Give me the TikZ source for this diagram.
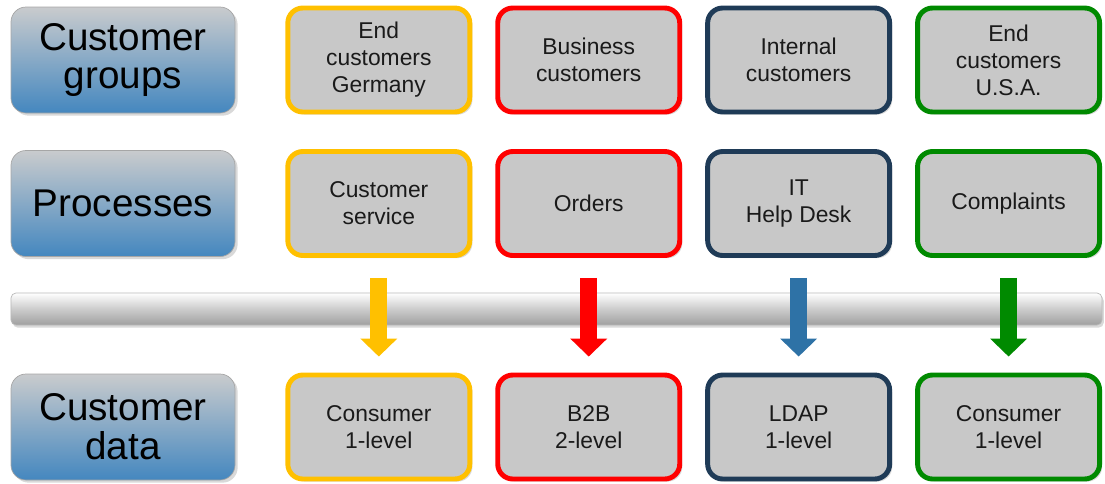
\documentclass[tikz,border=0pt]{standalone}
\usepackage{fontspec}
\setmainfont{Liberation Sans}
\usetikzlibrary{positioning, arrows.meta, shadows}
\definecolor{gyel}{HTML}{FFC000}
\definecolor{gred}{HTML}{FF0000}
\definecolor{gnavy}{HTML}{1F3B57}
\definecolor{ggreen}{HTML}{008A00}
\definecolor{arblue}{HTML}{2E72A6}
\definecolor{boxfill}{HTML}{C8C8C8}
\definecolor{lbltop}{HTML}{C9CBCD}
\definecolor{lblbot}{HTML}{4487BF}
\definecolor{txt}{HTML}{1A1A1A}
\tikzset{
  lbl/.style    ={rectangle, rounded corners=0.3cm, draw=gray!70, top color=lbltop, bottom color=lblbot,
                  minimum width=4.48cm, minimum height=2.12cm, align=center, text=black,
                  font=\fontsize{22}{22}\selectfont,
                  drop shadow={shadow xshift=1.5pt, shadow yshift=-1.5pt, opacity=0.3}},
  cbox/.style   ={rectangle, rounded corners=0.3cm, line width=2.8pt, fill=boxfill,
                  minimum width=3.64cm, minimum height=2.08cm, align=center, text=txt,
                  font=\fontsize{13}{15.4}\selectfont,
                  drop shadow={shadow xshift=1.5pt, shadow yshift=-1.5pt, opacity=0.3}},
  busbar/.style ={rectangle, rounded corners=0.1cm, draw=gray!55, top color=white, bottom color=gray!75,
                  middle color=gray!40, minimum width=21.82cm, minimum height=0.64cm,
                  drop shadow={shadow xshift=1pt, shadow yshift=-1.5pt, opacity=0.3}},
  darrow/.style ={line width=0.34cm, -{Triangle[width=0.72cm, length=0.36cm]},
                  shorten <=0.4cm, shorten >=0.32cm},
}
\begin{document}
\begin{tikzpicture}[node distance=0.78cm and 0.46cm]
  \useasboundingbox (0,0) rectangle (22.1,-9.66);
  % row labels
  \node[lbl] (lgrp)  at (2.46,-1.2)  {Customer\\groups};
  \node[lbl] (lproc) at (2.46,-4.07) {Processes};
  \node[lbl] (ldata) at (2.46,-8.54) {Customer\\data};
  % customer groups
  \node[cbox, draw=gyel, right=1.0cm of lgrp] (gEndDe) {End\\customers\\Germany};
  \node[cbox, draw=gred, right=of gEndDe] (gBiz) {Business\\customers};
  \node[cbox, draw=gnavy, right=of gBiz] (gInt) {Internal\\customers};
  \node[cbox, draw=ggreen, right=of gInt] (gEndUs) {End\\customers\\U.S.A.};
  % processes
  \node[cbox, draw=gyel, right=1.0cm of lproc] (pServ) {Customer\\service};
  \node[cbox, draw=gred, right=of pServ] (pOrd) {Orders};
  \node[cbox, draw=gnavy, right=of pOrd] (pHelp) {IT\\Help Desk};
  \node[cbox, draw=ggreen, right=of pHelp] (pCompl) {Complaints};
  % customer data
  \node[cbox, draw=gyel, right=1.0cm of ldata] (dCons) {Consumer\\1-level};
  \node[cbox, draw=gred, right=of dCons] (dBtoB) {B2B\\2-level};
  \node[cbox, draw=gnavy, right=of dBtoB] (dLdap) {LDAP\\1-level};
  \node[cbox, draw=ggreen, right=of dLdap] (dConsUs) {Consumer\\1-level};
  % bus and arrows
  \node[busbar] (bar) at (11.13,-6.18) {};
  \draw[darrow, draw=gyel]   (pServ)  -- (dCons);
  \draw[darrow, draw=gred]   (pOrd)   -- (dBtoB);
  \draw[darrow, draw=arblue] (pHelp)  -- (dLdap);
  \draw[darrow, draw=ggreen] (pCompl) -- (dConsUs);
\end{tikzpicture}
\end{document}
